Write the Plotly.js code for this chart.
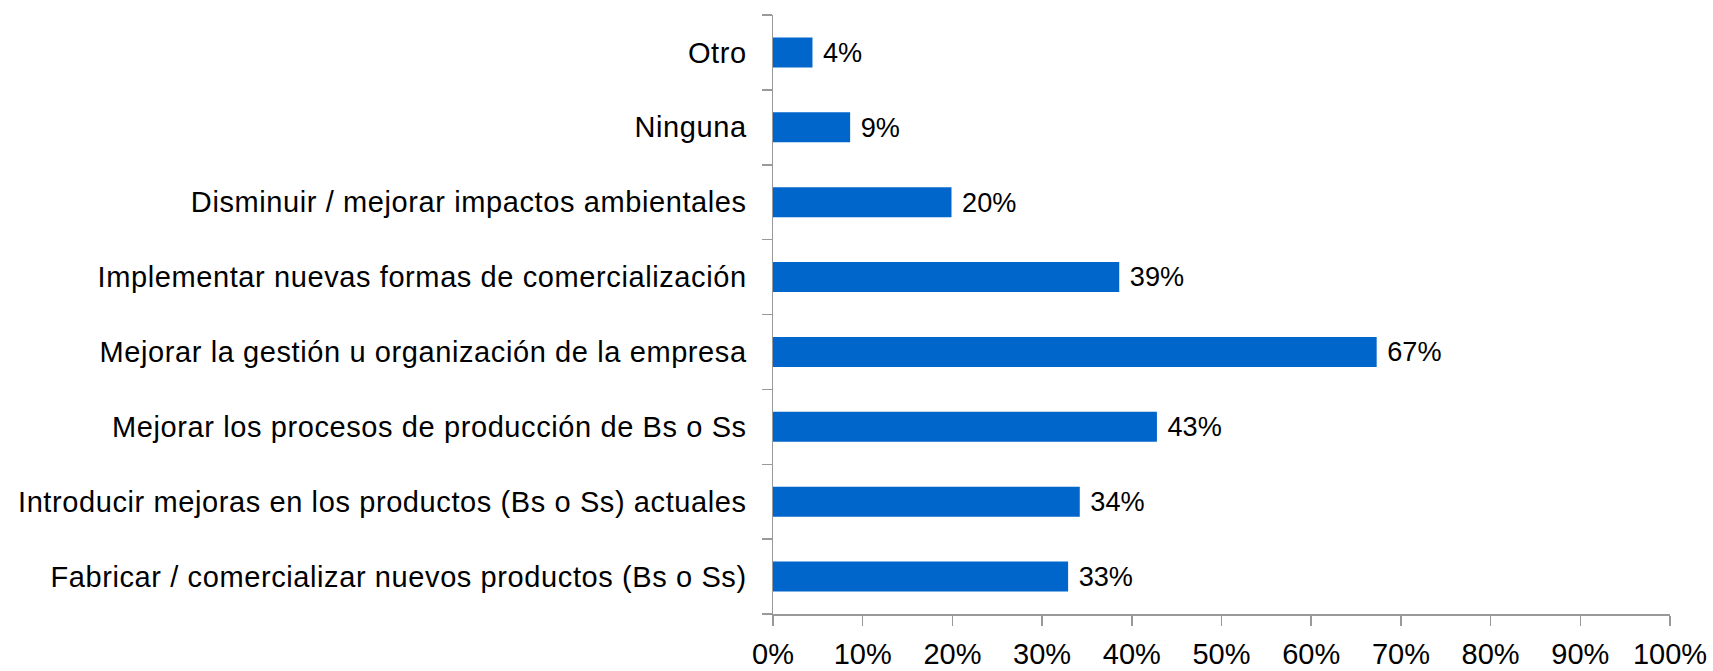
<!DOCTYPE html>
<html>
<head>
<meta charset="utf-8">
<script src="https://cdn.plot.ly/plotly-3.0.1.min.js"></script>
<style>html,body{margin:0;padding:0;background:#fff;}#chart{width:1713px;height:671px;}
.ytick text{letter-spacing:0.6px;}</style>
</head>
<body>
<div id="chart"></div>
<script>
const categories = [
  "Fabricar / comercializar nuevos productos (Bs o Ss)",
  "Introducir mejoras en los productos (Bs o Ss) actuales",
  "Mejorar los procesos de producción de Bs o Ss",
  "Mejorar la gestión u organización de la empresa",
  "Implementar nuevas formas de comercialización",
  "Disminuir / mejorar impactos ambientales",
  "Ninguna",
  "Otro"
];
const values = [32.9, 34.2, 42.8, 67.3, 38.6, 19.9, 8.6, 4.4];
const xTickVals = [0,10,20,30,40,50,60,70,80,90,100];
const xTickText = ["0%","10%","20%","30%","40%","50%","60%","70%","80%","90%","100%"];

const fontFam = "Liberation Sans, Arial, sans-serif";
const trace = {
  type: "bar",
  orientation: "h",
  y: categories,
  x: values,
  marker: {color: "#0066cc"},
  texttemplate: "\u00a0%{x:.0f}%",
  textposition: "outside",
  cliponaxis: false,
  textfont: {family: fontFam, size: 29, color: "#000"},
  hoverinfo: "none"
};
const layout = {
  width: 1713, height: 671,
  margin: {l: 773, r: 43, t: 15, b: 57, pad: 0},
  paper_bgcolor: "#fff", plot_bgcolor: "#fff",
  bargap: 0.6,
  showlegend: false,
  font: {family: fontFam, size: 29, color: "#000"},
  xaxis: {
    range: [0, 100],
    tickvals: xTickVals, ticktext: xTickText,
    ticks: "outside", ticklen: 10, tickcolor: "#999", tickwidth: 1.5,
    showline: true, linecolor: "#999", linewidth: 1.5,
    showgrid: false, zeroline: false,
    ticklabelstandoff: 4,
    tickfont: {family: fontFam, size: 29, color: "#000"}
  },
  yaxis: {
    type: "category",
    tickson: "boundaries",
    ticks: "outside", ticklen: 10, tickcolor: "#999", tickwidth: 1.5,
    showline: true, linecolor: "#999", linewidth: 1.5,
    showgrid: false, zeroline: false,
    ticklabelstandoff: 19,
    tickfont: {family: fontFam, size: 29, color: "#000"}
  }
};
Plotly.newPlot("chart", [trace], layout, {staticPlot: true, displayModeBar: false});
</script>
</body>
</html>
